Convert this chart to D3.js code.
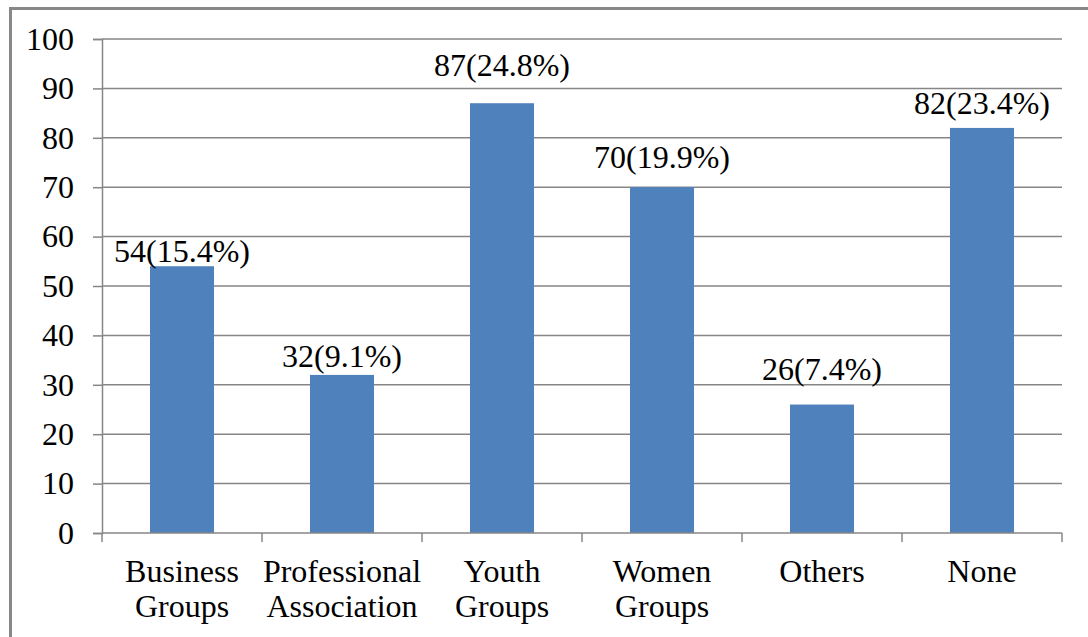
<!DOCTYPE html>
<html>
<head>
<meta charset="utf-8">
<script src="https://cdn.jsdelivr.net/npm/d3@7"></script>
<style>
  html, body { margin: 0; padding: 0; background: #fff; }
  svg { display: block; }
  text { font-family: "Liberation Serif", "Times New Roman", serif; fill: #000; }
</style>
</head>
<body>
<svg id="chart" width="1088" height="637"></svg>
<script>
// Membership of groups: counts with their share of respondents
const categories = [["Business", "Groups"], ["Professional", "Association"], ["Youth", "Groups"], ["Women", "Groups"], ["Others"], ["None"]];
const counts = [54, 32, 87, 70, 26, 82];
const shares = ["15.4%", "9.1%", "24.8%", "19.9%", "7.4%", "23.4%"];
const yTicks = [0, 10, 20, 30, 40, 50, 60, 70, 80, 90, 100];

// Layout: how far each value label sits above its bar (px)
const labelLift = [4, 8, 27, 19, 25, 14];

const svg = d3.select("#chart");
const plot = { left: 102, right: 1062, top: 39, bottom: 533 };
const gridColor = "#868686";
const fontSize = 32;

// Outer frame
svg.append("rect")
  .attr("x", 10.5).attr("y", 8.5)
  .attr("width", 1100).attr("height", 700)
  .attr("fill", "none").attr("stroke", "#888").attr("stroke-width", 3);

const keys = categories.map((c, i) => i);
const x = d3.scaleBand().domain(keys).range([plot.left, plot.right]).paddingInner(0.6).paddingOuter(0.3);
const xBounds = d3.scaleLinear().domain([0, categories.length]).range([plot.left, plot.right]);
const y = d3.scaleLinear().domain([0, 100]).range([plot.bottom, plot.top]);

// Horizontal gridlines
svg.append("g").selectAll("line").data(yTicks.filter(t => t > 0)).join("line")
  .attr("x1", plot.left).attr("x2", plot.right)
  .attr("y1", d => y(d)).attr("y2", d => y(d))
  .attr("stroke", gridColor).attr("stroke-width", 1.5);

// Y axis
const yAxis = svg.append("g").attr("transform", `translate(${plot.left},0)`)
  .call(d3.axisLeft(y).tickValues(yTicks).tickSize(9).tickPadding(19).tickFormat(d3.format("d")));
yAxis.select(".domain").attr("stroke", gridColor).attr("stroke-width", 1.5);
yAxis.selectAll(".tick line").attr("stroke", gridColor).attr("stroke-width", 1.5);
yAxis.selectAll(".tick text").attr("font-size", fontSize)
  .attr("font-family", "Liberation Serif").attr("fill", "#000");

// Bars
svg.append("g").selectAll("rect").data(counts).join("rect")
  .attr("x", (d, i) => x(i))
  .attr("y", d => y(d))
  .attr("width", x.bandwidth())
  .attr("height", d => y(0) - y(d))
  .attr("fill", "#4f81bd");

// X axis baseline and category boundary ticks
svg.append("line")
  .attr("x1", plot.left).attr("x2", plot.right).attr("y1", plot.bottom).attr("y2", plot.bottom)
  .attr("stroke", gridColor).attr("stroke-width", 1.5);
svg.append("g").selectAll("line").data(d3.range(categories.length + 1)).join("line")
  .attr("x1", d => xBounds(d)).attr("x2", d => xBounds(d))
  .attr("y1", plot.bottom).attr("y2", plot.bottom + 9)
  .attr("stroke", gridColor).attr("stroke-width", 1.5);

// Category labels
const lbl = svg.append("g").selectAll("text").data(categories).join("text")
  .attr("text-anchor", "middle")
  .attr("font-size", fontSize);
lbl.each(function(lines, i) {
  const t = d3.select(this);
  lines.forEach((line, j) => {
    t.append("tspan")
      .attr("x", x(i) + x.bandwidth() / 2)
      .attr("y", 582 + j * 35)
      .text(line);
  });
});

// Value labels
svg.append("g").selectAll("text").data(counts).join("text")
  .attr("text-anchor", "middle")
  .attr("font-size", fontSize)
  .attr("x", (d, i) => x(i) + x.bandwidth() / 2)
  .attr("y", (d, i) => y(d) - labelLift[i])
  .text((d, i) => `${d}(${shares[i]})`);
</script>
</body>
</html>
